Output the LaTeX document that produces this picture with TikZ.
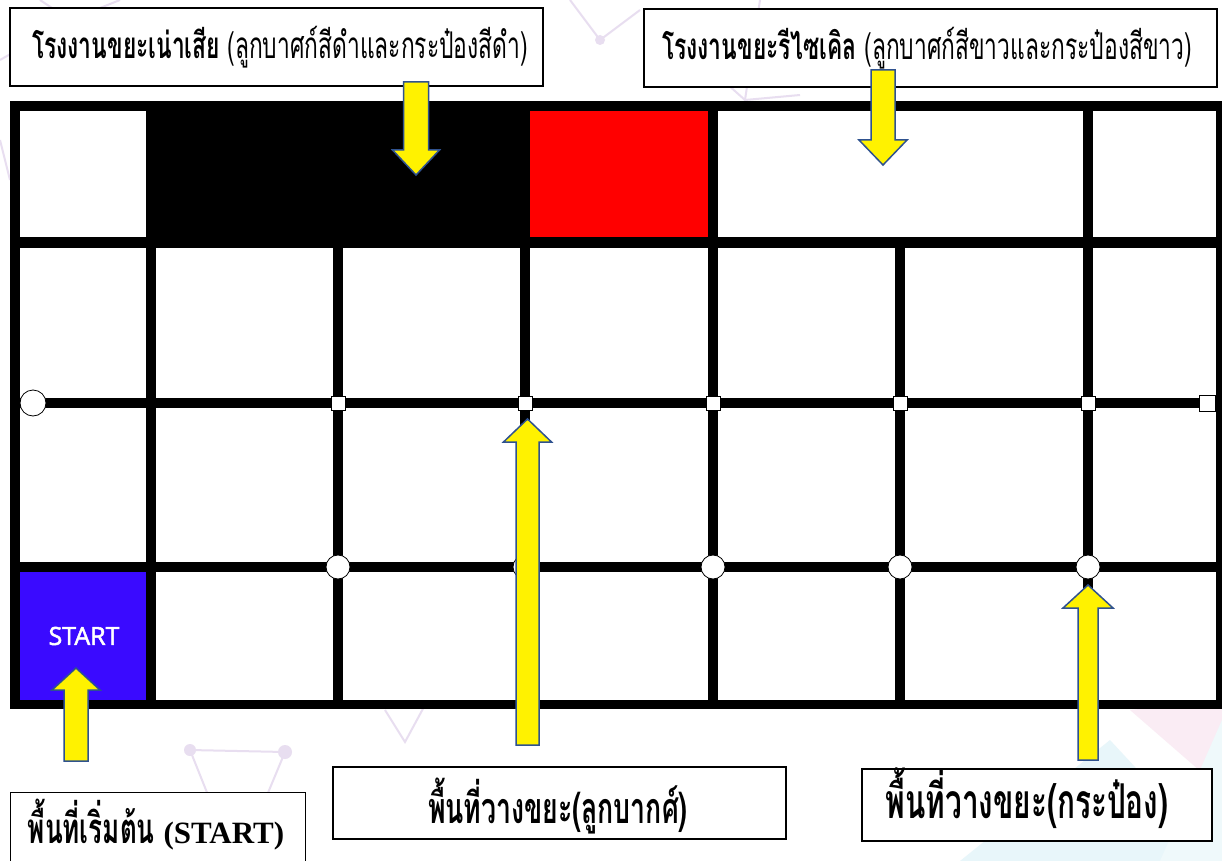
\documentclass[tikz,border=0pt]{standalone}
\usepackage{fontspec}
\newfontfamily\thaifont[Script=Thai,FakeStretch=0.62]{Loma}
\newfontfamily\startfont[FakeBold=2]{Open Sans}
\newfontfamily\latinserif{Liberation Serif}
\definecolor{arrowblue}{RGB}{47,82,143}
\definecolor{startblue}{RGB}{58,10,255}
\definecolor{deco}{RGB}{232,222,240}
\definecolor{decocyan}{RGB}{232,246,250}
\definecolor{decopink}{RGB}{250,236,244}
\newcommand{\blockarrow}[6]{%
  \draw[yarrow] ({#1-#4},#2) -- ({#1-#4},#6) -- ({#1-#5},#6) -- (#1,#3)
    -- ({#1+#5},#6) -- ({#1+#4},#6) -- ({#1+#4},#2) -- cycle;}
\begin{document}
\begin{tikzpicture}[x=1pt,y=-1pt,
  labelbox/.style={draw=black, line width=1.3pt, fill=white, inner sep=0pt},
  yarrow/.style={fill=yellow, draw=arrowblue, line width=1.5pt, line join=miter},
  sqmark/.style={rectangle, draw=black, line width=0.8pt, fill=white, inner sep=0pt, minimum size=14pt},
  cmark/.style={circle, draw=black, line width=0.8pt, fill=white, inner sep=0pt, minimum size=24pt},
  toptext/.style={font=\thaifont\fontsize{36.8}{40}\selectfont, inner sep=0pt, anchor=base west},
  bottext/.style={font=\thaifont\bfseries\fontsize{43}{46}\selectfont, inner sep=0pt, anchor=base},
  decoline/.style={draw=deco, line width=2pt}]
\useasboundingbox (0,0) rectangle (1222,861);
\clip (0,0) rectangle (1222,861);
\fill[white] (0,0) rectangle (1222,861);
% faint background decoration
\fill[decocyan] (960,861) -- (1110,740) -- (1222,861) -- cycle;
\fill[decopink] (1130,710) -- (1222,700) -- (1222,790) -- cycle;
\fill[decocyan!70] (1222,720) -- (1160,861) -- (1222,861) -- cycle;
\path[decoline] (190,750) -- (285,752) -- (265,800) (190,750) -- (210,800);
\fill[deco] (190,750) circle (6) (285,752) circle (7);
\path[decoline] (385,710) -- (405,742) -- (425,705);
\path[decoline] (0,60) -- (70,20) -- (120,0) (70,20) -- (40,0);
\path[decoline] (570,0) -- (600,40) -- (640,10);
\fill[deco] (600,40) circle (5);
\path[decoline] (700,60) -- (745,100) (760,0) -- (745,100) -- (800,95);
\path[decoline] (0,140) -- (10,180);
% board
\fill[black] (10,101) rectangle (1222,709);
\foreach \a/\b in {20/146,156/333,343/520,530/708,718/895,905/1083,1093/1216}
  \foreach \c/\d in {248/398,408/562,572/700}
    \fill[white] (\a,\c) rectangle (\b,\d);
\fill[white] (20,111) rectangle (146,237);
\fill[red] (530,111) rectangle (708,237);
\fill[white] (718,111) rectangle (1083,237);
\fill[white] (1093,111) rectangle (1216,237);
\fill[startblue] (20,572) rectangle (146,700);
\node[font=\startfont\fontsize{25}{28}\selectfont, text=white, inner sep=0pt] (starttxt) at (84,636) {START};
% markers on middle line
\node[cmark, minimum size=26pt] (m0) at (33,403) {};
\foreach \x/\n in {338/1,525/2,713/3,900/4,1088/5}
  \node[sqmark] (s\n) at (\x,403) {};
\node[sqmark, minimum size=16pt] (s6) at (1207,403) {};
% markers on lower line
\foreach \x/\n in {338/1,525/2,713/3,900/4,1088/5}
  \node[cmark] (c\n) at (\x,567) {};
% label boxes
\node[labelbox, minimum width=533pt, minimum height=78pt] (lblwaste) at (276.5,47) {};
\node[toptext] (txtwaste) at (32,59) {\textbf{โรงงานขยะเน่าเสีย} (ลูกบาศก์สีดำและกระป๋องสีดำ)};
\node[labelbox, minimum width=573pt, minimum height=78pt] (lblrecycle) at (930.5,48) {};
\node[toptext] (txtrecycle) at (662,60) {\textbf{โรงงานขยะรีไซเคิล} (ลูกบาศก์สีขาวและกระป๋องสีขาว)};
\node[labelbox, minimum width=295pt, minimum height=100pt, anchor=north west] (lblstart) at (10,792) {};
\node[bottext, font=\thaifont\bfseries\fontsize{42}{46}\selectfont] (txtstart) at (156,843) {พื้นที่เริ่มต้น {\latinserif\bfseries\fontsize{31}{34}\selectfont (START)}};
\node[labelbox, minimum width=453pt, minimum height=72pt] (lblcube) at (559.5,803) {};
\node[bottext] (txtcube) at (558,823) {พื้นที่วางขยะ(ลูกบากศ์)};
\node[labelbox, minimum width=350pt, minimum height=72pt] (lblcan) at (1037,805) {};
\node[bottext, font=\thaifont\bfseries\fontsize{48}{52}\selectfont] (txtcan) at (1027,818) {พื้นที่วางขยะ(กระป๋อง)};
% yellow block arrows
\blockarrow{416}{82}{175}{12.5}{23.5}{150}
\blockarrow{883}{70}{165}{12}{24}{140}
\blockarrow{76}{761}{668}{12}{24}{690}
\blockarrow{527.5}{745}{419}{11.5}{24}{442}
\blockarrow{1088}{760}{585}{10}{25}{608}
\end{tikzpicture}
\end{document}
